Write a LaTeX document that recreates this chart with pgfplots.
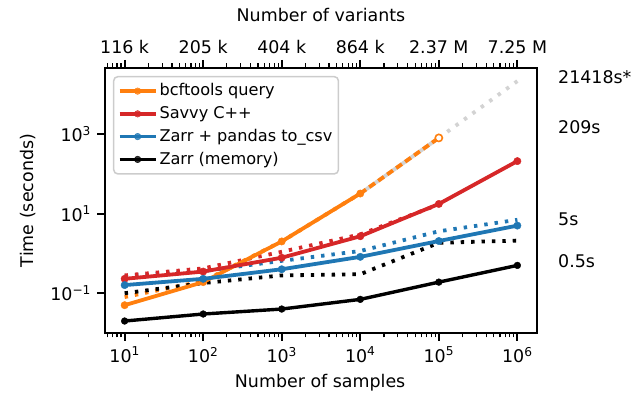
\documentclass[border=0pt]{standalone}
\usepackage{fontspec}
\setmainfont{DejaVu Sans}
\usepackage{pgfplots}
\pgfplotsset{compat=1.18}
\definecolor{tabblue}{HTML}{1F77B4}
\definecolor{taborange}{HTML}{FF7F0E}
\definecolor{tabred}{HTML}{D62728}
\definecolor{ltgrey}{HTML}{D3D3D3}
\definecolor{legframe}{HTML}{CCCCCC}
\newcommand\f{\fontsize{17.5}{21}\selectfont}
\newcommand\lf{\fontsize{16.2}{19}\selectfont}

\tikzset{
  dotln/.style={line width=3.8bp, dash pattern=on 3.4bp off 7bp, line cap=butt},
  solidln/.style={line width=3.8bp, mark=*, mark size=3.7bp, line join=round,
    mark options={line width=0.4bp}},
}

\begin{document}
\f
\begin{tikzpicture}
\useasboundingbox (0,0) rectangle (635bp,405bp);

% secondary (top) axis: number of variants per sample count
\begin{axis}[
  scale only axis, width=432bp, height=265bp,
  at={(105bp,72bp)}, anchor=south west,
  xmode=log, xmin=5.6234, xmax=1778279,
  ymin=0, ymax=1,
  xtick={10,100,1000,10000,100000,1000000},
  minor xtick={6,7,8,9,20,30,40,50,60,70,80,90,200,300,400,500,600,700,800,900,
    2000,3000,4000,5000,6000,7000,8000,9000,20000,30000,40000,50000,60000,70000,80000,90000,
    200000,300000,400000,500000,600000,700000,800000,900000},
  tick align=outside,
  major tick length=8bp, minor tick length=4.5bp,
  every tick/.style={black, line width=1.8bp},
  every minor tick/.style={black, line width=1.2bp},
  tick label style={font=\f},
  label style={font=\f},
  axis x line*=top, axis y line=none,
  xticklabels={116 k,205 k,404 k,864 k,2.37 M,7.25 M},
  xlabel={Number of variants},
  axis line style={line width=2bp},
  xlabel style={at={(axis description cs:0.5,1.2)}, anchor=center},
]
\end{axis}

\begin{axis}[
  scale only axis, width=432bp, height=265bp,
  at={(105bp,72bp)}, anchor=south west,
  xmode=log, xmin=5.6234, xmax=1778279,
  ymode=log, ymin=0.01, ymax=45709,
  xtick={10,100,1000,10000,100000,1000000},
  minor xtick={6,7,8,9,20,30,40,50,60,70,80,90,200,300,400,500,600,700,800,900,
    2000,3000,4000,5000,6000,7000,8000,9000,20000,30000,40000,50000,60000,70000,80000,90000,
    200000,300000,400000,500000,600000,700000,800000,900000},
  tick align=outside,
  major tick length=8bp, minor tick length=4.5bp,
  every tick/.style={black, line width=1.8bp},
  every minor tick/.style={black, line width=1.2bp},
  tick label style={font=\f},
  label style={font=\f},
  ytick={0.1,10,1000}, yminorticks=false,
  yticklabels={10\textsuperscript{−1},10\textsuperscript{1},10\textsuperscript{3}},
  xticklabels={10\textsuperscript{1},10\textsuperscript{2},10\textsuperscript{3},10\textsuperscript{4},10\textsuperscript{5},10\textsuperscript{6}},
  xtick pos=left, ytick pos=left,
  axis line style={line width=2.4bp},
  xlabel={Number of samples},
  ylabel={Time (seconds)},
  xlabel style={at={(axis description cs:0.498,-0.189)}, anchor=center},
  ylabel style={at={(axis description cs:-0.178,0.5)}, anchor=center},
  clip mode=individual,
  legend cell align=left,
  legend style={at={(0.0185,0.970)}, anchor=north west,
    draw=legframe, line width=1.5bp, rounded corners=4bp,
    fill=white, fill opacity=0.8, text opacity=1,
    inner xsep=4bp, inner ysep=5bp, row sep=4bp},
  legend image code/.code={\draw[#1, mark indices={2}, mark size=3.3bp]
    plot coordinates {(0bp,0bp) (18bp,0bp) (36bp,0bp)};},
]
% second run of each tool (dotted)
\addplot[taborange, dotln, forget plot] coordinates {(10,0.08) (100,0.2) (1000,2.0) (10000,32)};
\addplot[black, dotln, forget plot] coordinates {(10,0.1) (100,0.18) (1000,0.28) (10000,0.3) (100000,1.85) (1000000,2.1)};
\addplot[tabblue, dotln, forget plot] coordinates {(10,0.27) (100,0.36) (1000,0.65) (10000,1.15) (100000,3.6) (1000000,7)};
\addplot[tabred, dotln, forget plot] coordinates {(10,0.28) (100,0.42) (1000,1.1) (10000,3.0) (100000,17)};

% extrapolated bcftools times
\addplot[ltgrey, line width=3.8bp, forget plot] coordinates {(10000,32) (100000,800)};
\addplot[ltgrey, dotln, forget plot] coordinates {(100000,800) (1000000,21418)};

% measured times
\addplot[taborange, solidln] coordinates {(10,0.05) (100,0.19) (1000,2.0) (10000,32)};
\addlegendentry{\lf bcftools query}
\addplot[tabred, solidln] coordinates {(10,0.23) (100,0.35) (1000,0.78) (10000,2.7) (100000,17.5) (1000000,209)};
\addlegendentry{\lf Savvy C++}
\addplot[tabblue, solidln] coordinates {(10,0.16) (100,0.23) (1000,0.4) (10000,0.82) (100000,2.05) (1000000,5)};
\addlegendentry{\lf Zarr + pandas to\_csv}
\addplot[black, solidln, line width=3.4bp, mark size=3.4bp] coordinates {(10,0.02) (100,0.03) (1000,0.04) (10000,0.07) (100000,0.19) (1000000,0.5)};
\addlegendentry{\lf Zarr (memory)}

% bcftools run at 10^5 samples
\addplot[taborange, line width=3.8bp, dash pattern=on 7bp off 4bp, line cap=butt, forget plot] coordinates {(10000,32) (100000,800)};
\addplot[taborange, only marks, mark=*, mark size=3.6bp, mark options={fill=white, line width=1.6bp}, forget plot] coordinates {(100000,800)};

\node[anchor=base west, font=\f, inner sep=0pt] at (axis description cs:1.0486,0.943) {21418s*};
\node[anchor=base west, font=\f, inner sep=0pt] at (axis description cs:1.0486,0.751) {209s};
\node[anchor=base west, font=\f, inner sep=0pt] at (axis description cs:1.0486,0.405) {5s};
\node[anchor=base west, font=\f, inner sep=0pt] at (axis description cs:1.0486,0.249) {0.5s};
\end{axis}
\end{tikzpicture}
\end{document}
